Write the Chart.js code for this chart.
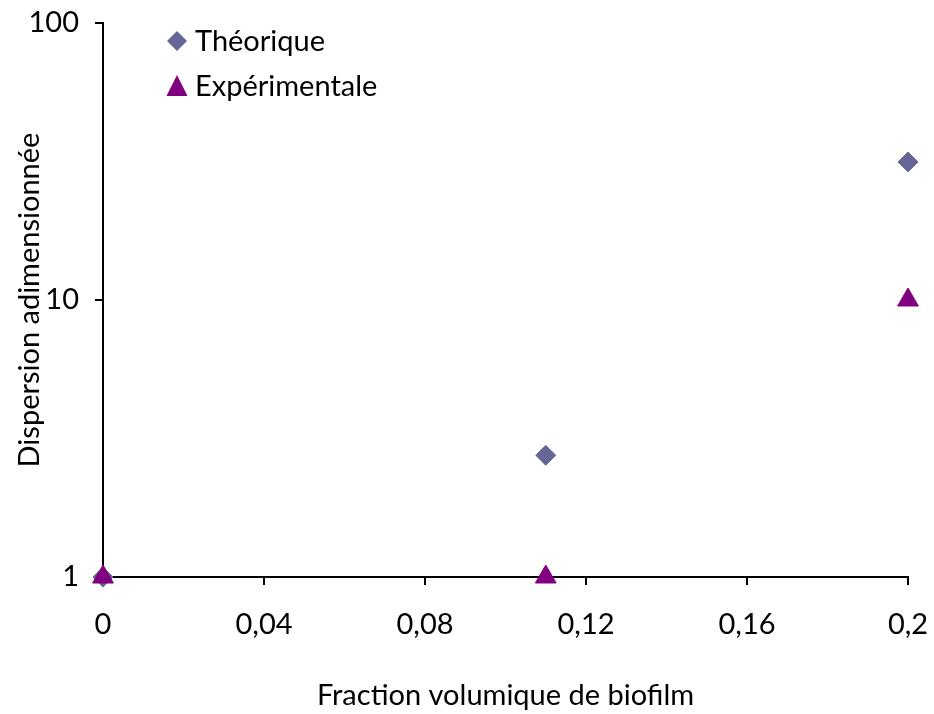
<!DOCTYPE html>
<html>
<head>
<meta charset="utf-8">
<script src="https://cdn.jsdelivr.net/npm/chart.js@4"></script>
<style>
  body { margin: 0; background: #fff; }
  #wrap { width: 934px; height: 714px; }
</style>
</head>
<body>
<div id="wrap"><canvas id="c"></canvas></div>
<script>
const fractions = [0, 0.11, 0.2];
const theorique = [1, 2.75, 31.5];
const experimentale = [1, 1, 10];
const xTicks = [0, 0.04, 0.08, 0.12, 0.16, 0.2];
const yTicks = [1, 10, 100];
const seriesNames = ['Théorique', 'Expérimentale'];

const FONT = 'Lato';
const FSIZE = 29;
const BLUE = '#666699';
const PURPLE = '#800080';

// legend drawn inside the plot, like the original
const innerLegend = {
  id: 'innerLegend',
  afterDraw(chart) {
    const ctx = chart.ctx;
    const items = [
      { name: seriesNames[0], color: BLUE, shape: 'diamond', y: 41 },
      { name: seriesNames[1], color: PURPLE, shape: 'triangle', y: 86 },
    ];
    ctx.save();
    ctx.font = FSIZE + 'px ' + FONT;
    ctx.textBaseline = 'middle';
    items.forEach(it => {
      const x = 177;
      ctx.fillStyle = it.color;
      ctx.beginPath();
      if (it.shape === 'diamond') {
        ctx.moveTo(x - 10, it.y);
        ctx.lineTo(x, it.y - 10);
        ctx.lineTo(x + 10, it.y);
        ctx.lineTo(x, it.y + 10);
      } else {
        ctx.moveTo(x, it.y - 11);
        ctx.lineTo(x + 10.5, it.y + 10);
        ctx.lineTo(x - 10.5, it.y + 10);
      }
      ctx.closePath();
      ctx.fill();
      ctx.fillStyle = '#000';
      ctx.fillText(it.name, 195, it.y + 1);
    });
    ctx.restore();
  }
};

const noPad = s => {
  s.paddingLeft = 0;
  s.paddingRight = 0;
  s.paddingTop = 0;
  s.paddingBottom = 0;
};

new Chart(document.getElementById('c'), {
  type: 'scatter',
  data: {
    datasets: [
      {
        label: seriesNames[0],
        data: fractions.map((x, i) => ({ x: x, y: theorique[i] })),
        pointStyle: 'rectRot',
        pointRadius: 10,
        pointBackgroundColor: BLUE,
        pointBorderColor: BLUE,
        pointBorderWidth: 1,
        clip: false,
        order: 2,
      },
      {
        label: seriesNames[1],
        data: fractions.map((x, i) => ({ x: x, y: experimentale[i] })),
        pointStyle: 'triangle',
        pointRadius: 12,
        pointBackgroundColor: PURPLE,
        pointBorderColor: PURPLE,
        pointBorderWidth: 1,
        clip: false,
        order: 1,
      },
    ],
  },
  options: {
    responsive: true,
    maintainAspectRatio: false,
    animation: false,
    layout: { padding: { left: 0, top: 23, right: 26, bottom: 0 } },
    plugins: {
      legend: { display: false },
      tooltip: { enabled: false },
    },
    scales: {
      x: {
        type: 'linear',
        min: 0,
        max: 0.2,
        afterFit: s => { s.height = 137; noPad(s); },
        afterBuildTicks: s => {
          s.ticks = xTicks.map(v => ({ value: v }));
        },
        ticks: {
          color: '#000',
          font: { family: FONT, size: FSIZE },
          padding: 22,
          maxRotation: 0,
          callback: v => String(Math.round(v * 100) / 100).replace('.', ','),
        },
        grid: {
          drawOnChartArea: false,
          drawTicks: true,
          tickLength: 8,
          color: '#000',
          lineWidth: 2,
        },
        border: { display: true, color: '#000', width: 2 },
        title: {
          display: true,
          text: 'Fraction volumique de biofilm',
          color: '#000',
          font: { family: FONT, size: FSIZE },
          padding: { top: 0, bottom: 1 },
        },
      },
      y: {
        type: 'logarithmic',
        min: 1,
        max: 100,
        afterFit: s => { s.width = 103; noPad(s); },
        afterBuildTicks: s => {
          s.ticks = yTicks.map(v => ({ value: v }));
        },
        ticks: {
          color: '#000',
          font: { family: FONT, size: FSIZE },
          padding: 16,
          callback: v => String(v),
        },
        grid: {
          drawOnChartArea: false,
          drawTicks: true,
          tickLength: 8,
          color: '#000',
          lineWidth: 2,
        },
        border: { display: true, color: '#000', width: 2 },
        title: {
          display: true,
          text: 'Dispersion adimensionnée',
          color: '#000',
          font: { family: FONT, size: FSIZE },
          padding: { top: 12, bottom: 0 },
        },
      },
    },
  },
  plugins: [innerLegend],
});
</script>
</body>
</html>
